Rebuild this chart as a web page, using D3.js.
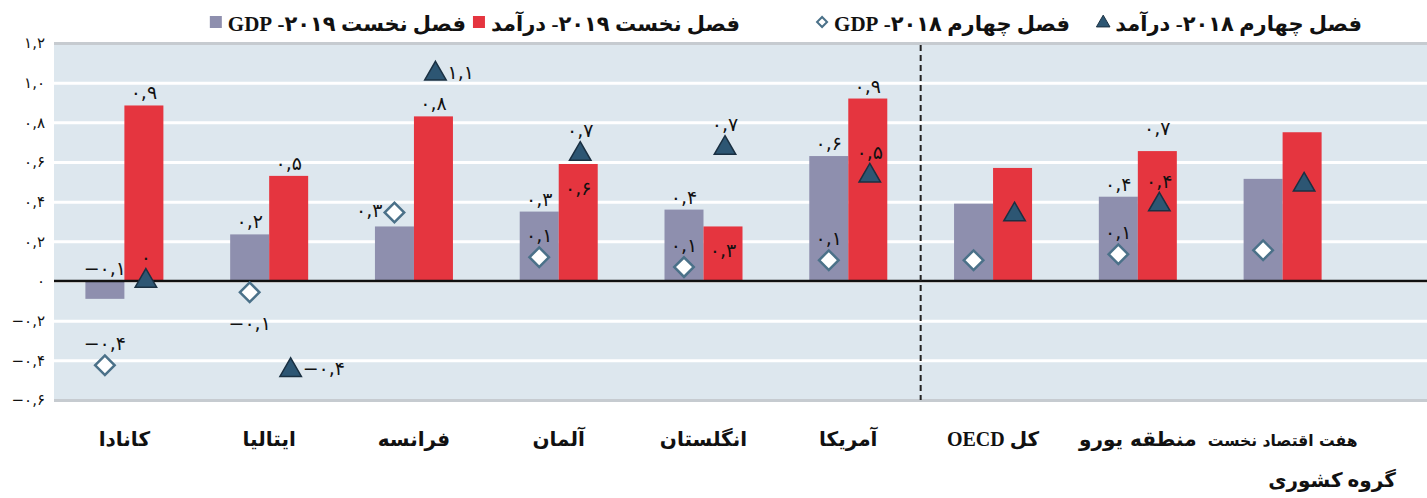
<!DOCTYPE html>
<html>
<head>
<meta charset="utf-8">
<title>درآمد و GDP</title>
<style>
  body {margin:0; background:#fff}
  svg {display:block}
  text {font-family: "Liberation Serif", "DejaVu Sans", serif}
</style>
</head>
<body>
<script src="https://cdn.jsdelivr.net/npm/d3@7"></script>
<script>

// data
const categories = ["کانادا", "ایتالیا", "فرانسه", "آلمان", "انگلستان", "آمریکا", "کل OECD", "منطقه یورو", "هفت اقتصاد نخست"]
const gdpQ1_2019    = [-0.09, 0.235, 0.275, 0.35, 0.36, 0.63, 0.39, 0.425, 0.515]
const incomeQ1_2019 = [0.885, 0.53, 0.83, 0.59, 0.275, 0.92, 0.57, 0.655, 0.75]
const incomeQ4_2018 = [0.01, -0.44, 1.055, 0.65, 0.68, 0.54, 0.345, 0.395, 0.495]
const gdpQ4_2018    = [-0.425, -0.057, 0.345, 0.12, 0.07, 0.105, 0.105, 0.135, 0.155]

const tickValues = [-0.6, -0.4, -0.2, 0, 0.2, 0.4, 0.6, 0.8, 1.0, 1.2]
const tickLabels = ["−۰,۶", "−۰,۴", "−۰,۲", "۰", "۰,۲", "۰,۴", "۰,۶", "۰,۸", "۱,۰", "۱,۲"]

const legendLabels = {
  gdp19: "فصل نخست ۲۰۱۹- GDP",
  inc19: "فصل نخست ۲۰۱۹- درآمد",
  gdp18: "فصل چهارم ۲۰۱۸- GDP",
  inc18: "فصل چهارم ۲۰۱۸- درآمد"
}
const groupTitle = "گروه کشوری"

// value labels: which point they belong to and on which side
const valueLabels = [
  {cat: 0, series: "gdp19", text: "−۰,۱", place: "above"},
  {cat: 0, series: "inc19", text: "۰,۹", place: "above"},
  {cat: 0, series: "inc18", text: "۰", place: "above"},
  {cat: 0, series: "gdp18", text: "−۰,۴", place: "above"},
  {cat: 1, series: "gdp19", text: "۰,۲", place: "above"},
  {cat: 1, series: "inc19", text: "۰,۵", place: "above"},
  {cat: 1, series: "gdp18", text: "−۰,۱", place: "below"},
  {cat: 1, series: "inc18", text: "−۰,۴", place: "right"},
  {cat: 2, series: "gdp18", text: "۰,۳", place: "left"},
  {cat: 2, series: "inc19", text: "۰,۸", place: "above"},
  {cat: 2, series: "inc18", text: "۱,۱", place: "right"},
  {cat: 3, series: "gdp19", text: "۰,۳", place: "above"},
  {cat: 3, series: "inc19", text: "۰,۶", place: "inside"},
  {cat: 3, series: "inc18", text: "۰,۷", place: "above"},
  {cat: 3, series: "gdp18", text: "۰,۱", place: "above"},
  {cat: 4, series: "gdp19", text: "۰,۴", place: "above"},
  {cat: 4, series: "inc19", text: "۰,۳", place: "inside"},
  {cat: 4, series: "inc18", text: "۰,۷", place: "above"},
  {cat: 4, series: "gdp18", text: "۰,۱", place: "above"},
  {cat: 5, series: "gdp19", text: "۰,۶", place: "above"},
  {cat: 5, series: "inc19", text: "۰,۹", place: "above"},
  {cat: 5, series: "inc18", text: "۰,۵", place: "above"},
  {cat: 5, series: "gdp18", text: "۰,۱", place: "above"},
  {cat: 7, series: "gdp19", text: "۰,۴", place: "above"},
  {cat: 7, series: "inc19", text: "۰,۷", place: "high"},
  {cat: 7, series: "inc18", text: "۰,۴", place: "above"},
  {cat: 7, series: "gdp18", text: "۰,۱", place: "above"}
]

const W = 1427, H = 498
const pLeft = 54, pRight = 1427, pTop = 43, pBottom = 400
const rtl = s => "\u202B" + s + "\u202C"

const svg = d3.select("body").append("svg").attr("width", W).attr("height", H)

const x = d3.scaleBand().domain(d3.range(categories.length)).range([52, 1355])
const y = d3.scaleLinear().domain([-0.6, 1.2]).range([pBottom, pTop])
const barW = 39
const cx = i => x(i) + x.bandwidth() / 2

const colors = {gdp19: "#8e8fae", inc19: "#e5353f", tri: "#2d5673", triStroke: "#1a3042", dia: "#4b7189"}

// background
svg.append("rect")
  .attr("x", pLeft).attr("y", pTop).attr("width", pRight - pLeft).attr("height", pBottom - pTop)
  .attr("fill", "#dde7ee")

// grid
const grid = svg.append("g").attr("transform", `translate(${pLeft},0)`)
  .call(d3.axisLeft(y).tickValues(tickValues).tickSize(-(pRight - pLeft)).tickFormat(""))
grid.select(".domain").remove()
grid.selectAll(".tick line")
  .attr("stroke", d => (d === 1.2 || d === -0.6) ? "#c6cbd0" : "#fff")
  .attr("stroke-width", 3)

// y labels
const yAxis = svg.append("g").attr("transform", `translate(${pLeft},0)`)
  .call(d3.axisLeft(y).tickValues(tickValues).tickSize(0).tickPadding(9)
    .tickFormat((d, i) => tickLabels[i]))
yAxis.select(".domain").remove()
yAxis.selectAll("text").attr("font-size", 15).attr("fill", "#111")
  .style("font-family", "'DejaVu Sans', sans-serif")

// bars
const bars = svg.append("g")
bars.append("g").selectAll("rect").data(gdpQ1_2019).join("rect")
  .attr("x", (d, i) => cx(i) - barW).attr("width", barW)
  .attr("y", d => y(Math.max(d, 0))).attr("height", d => Math.abs(y(d) - y(0)))
  .attr("fill", colors.gdp19)
bars.append("g").selectAll("rect").data(incomeQ1_2019).join("rect")
  .attr("x", (d, i) => cx(i)).attr("width", barW)
  .attr("y", d => y(Math.max(d, 0))).attr("height", d => Math.abs(y(d) - y(0)))
  .attr("fill", colors.inc19)

// zero line
svg.append("line").attr("x1", pLeft).attr("x2", pRight).attr("y1", y(0)).attr("y2", y(0))
  .attr("stroke", "#111").attr("stroke-width", 2.5)

// separator between countries and groups
const sepX = (cx(5) + cx(6)) / 2
svg.append("line").attr("x1", sepX).attr("x2", sepX).attr("y1", pTop + 2).attr("y2", pBottom)
  .attr("stroke", "#222").attr("stroke-width", 2).attr("stroke-dasharray", "6,4")

// markers
const triPath = d3.symbol(d3.symbolTriangle, 200)()
const diaPath = d3.symbol(d3.symbolSquare, 190)()
const triX = i => cx(i) + barW / 2 + 2
const diaX = i => cx(i) - barW / 2

svg.append("g").selectAll("path").data(gdpQ4_2018).join("path")
  .attr("d", diaPath)
  .attr("transform", (d, i) => `translate(${diaX(i)},${y(d)}) rotate(45)`)
  .attr("fill", "#fff").attr("stroke", colors.dia).attr("stroke-width", 2.5)

svg.append("g").selectAll("path").data(incomeQ4_2018).join("path")
  .attr("d", triPath)
  .attr("transform", (d, i) => `translate(${triX(i)},${y(d) + 2})`)
  .attr("fill", colors.tri).attr("stroke", colors.triStroke).attr("stroke-width", 1.5)

// value labels
const seriesVals = {gdp19: gdpQ1_2019, inc19: incomeQ1_2019, inc18: incomeQ4_2018, gdp18: gdpQ4_2018}
function labelPos(l) {
  const v = seriesVals[l.series][l.cat]
  const isBar = l.series === "gdp19" || l.series === "inc19"
  let px = l.series === "gdp19" || l.series === "gdp18" ? cx(l.cat) - barW / 2 : cx(l.cat) + barW / 2
  if (l.series === "inc18") px = triX(l.cat)
  let py = isBar ? y(Math.max(v, 0)) : y(v)
  let anchor = "middle"
  if (l.place === "above") py -= isBar ? 13 : 22
  if (l.place === "high") py -= 23
  if (l.place === "inside") py += 24
  if (l.place === "below") py += 31
  if (l.place === "right") { px += 12; anchor = "start" }
  if (l.place === "left") { px -= 12; anchor = "end"; py -= 3 }
  return {px, py, anchor}
}
svg.append("g").selectAll("text").data(valueLabels).join("text")
  .each(function (l) {
    const p = labelPos(l)
    d3.select(this).attr("x", p.px).attr("y", p.py).attr("text-anchor", p.anchor)
  })
  .attr("dominant-baseline", "central")
  .attr("font-size", 19).attr("fill", "#111")
  .style("font-family", "'DejaVu Sans', sans-serif")
  .text(l => l.text)

// category labels; a label wider than the slot gets a smaller font
const maxLabelW = 150
svg.append("g").selectAll("text").data(categories).join("text")
  .attr("x", (d, i) => cx(i)).attr("y", 446)
  .attr("text-anchor", "middle")
  .attr("font-size", 20).attr("font-weight", "bold").attr("fill", "#111")
  .style("font-family", "'DejaVu Sans', sans-serif")
  .text(d => d)
  .each(function () {
    const w = this.getComputedTextLength()
    if (w > maxLabelW) d3.select(this).attr("font-size", 20 * maxLabelW / w)
  })
// keep the Latin part in serif
svg.selectAll("g text").filter(d => d === "کل OECD")
  .style("font-family", "'Liberation Serif', 'DejaVu Sans', serif").text(rtl("کل OECD"))

svg.append("text").attr("x", 1332).attr("y", 487).attr("text-anchor", "middle")
  .attr("font-size", 20).attr("font-weight", "bold").attr("fill", "#111")
  .text(groupTitle)

// legend (right to left)
const legendOrder = ["gdp19", "inc19", "gdp18", "inc18"]
const legendRight = [466, 740, 1070, 1362]
const lg = svg.append("g")
legendOrder.forEach((k, i) => {
  const t = lg.append("text").attr("x", legendRight[i]).attr("y", 31)
    .attr("text-anchor", "end").attr("font-size", 21).attr("font-weight", "bold").attr("fill", "#111")
    .text(rtl(legendLabels[k]))
  const w = t.node().getComputedTextLength()
  const mx = legendRight[i] - w - 12, my = 22
  if (k === "gdp19" || k === "inc19") {
    lg.append("rect").attr("x", mx - 6).attr("y", my - 6).attr("width", 12).attr("height", 12)
      .attr("fill", colors[k])
  } else if (k === "gdp18") {
    lg.append("path").attr("d", d3.symbol(d3.symbolSquare, 50)())
      .attr("transform", `translate(${mx},${my}) rotate(45)`)
      .attr("fill", "#fff").attr("stroke", colors.dia).attr("stroke-width", 2)
  } else {
    lg.append("path").attr("d", d3.symbol(d3.symbolTriangle, 80)())
      .attr("transform", `translate(${mx},${my + 1})`)
      .attr("fill", colors.tri).attr("stroke", colors.triStroke).attr("stroke-width", 1)
  }
})
</script>
</body>
</html>
